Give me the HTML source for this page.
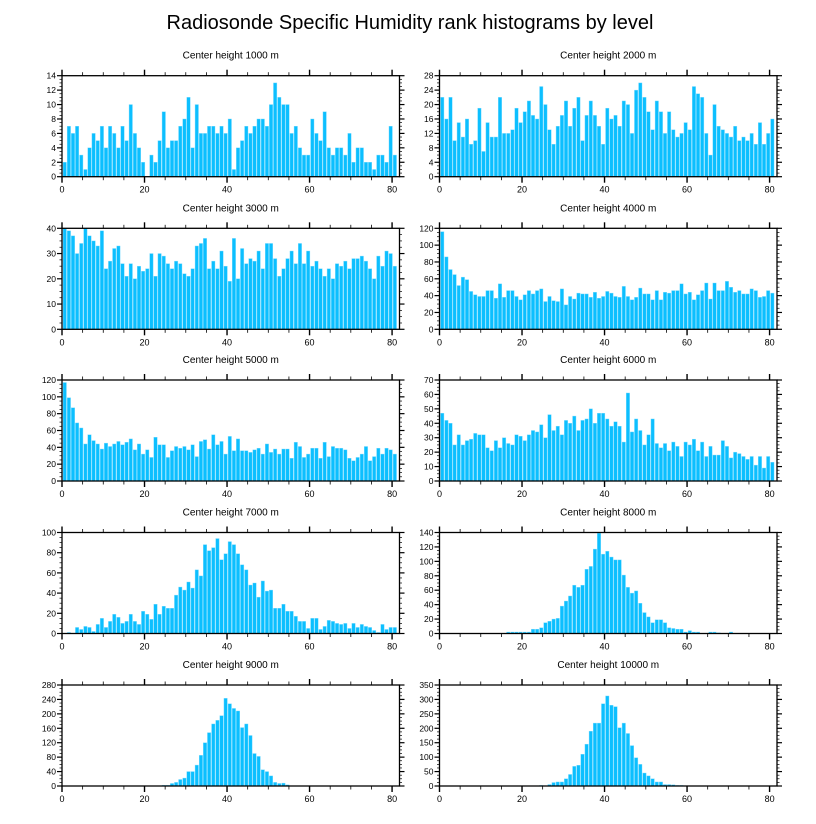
<!DOCTYPE html>
<html><head><meta charset="utf-8"><style>
html,body{margin:0;padding:0;background:#fff;}
svg{display:block;font-family:"Liberation Sans",Arial,sans-serif;}
</style></head><body>
<svg id="chart" width="816" height="824" viewBox="0 0 816 824" xmlns="http://www.w3.org/2000/svg">
<text x="410" y="29" text-anchor="middle" font-size="20">Radiosonde Specific Humidity rank histograms by level</text>
</svg>
<script>
const titles = ["Center height 1000 m","Center height 2000 m","Center height 3000 m","Center height 4000 m","Center height 5000 m","Center height 6000 m","Center height 7000 m","Center height 8000 m","Center height 9000 m","Center height 10000 m"];
const yMax = [14,28,40,120,120,70,100,140,280,350];
const yStep = [2,4,10,20,20,10,20,20,40,50];
const xTicks = [0,20,40,60,80];
const s1000 = [2,7,6,7,3,1,4,6,5,7,4,7,6,4,7,5,10,6,4,2,0,3,2,5,9,4,5,5,7,8,11,4,10,6,6,7,7,6,7,6,8,1,4,5,7,6,7,8,8,7,10,13,11,10,10,6,7,4,3,3,8,6,5,9,4,3,4,4,3,6,2,4,4,2,2,1,3,3,2,7,3];
const s2000 = [22,16,22,10,15,11,16,9,10,19,7,15,11,11,22,12,12,13,19,15,18,21,17,16,25,20,13,9,14,17,21,14,19,22,10,17,21,17,14,9,19,16,17,14,21,20,12,24,26,22,18,13,21,18,12,18,13,11,12,15,13,25,23,22,12,6,20,14,13,12,11,14,10,11,10,12,9,15,9,12,16];
const s3000 = [40,39,37,30,34,40,37,35,33,39,24,27,32,33,26,21,26,20,25,23,24,30,21,30,29,26,24,27,26,22,21,24,33,34,36,24,27,24,31,25,19,36,20,32,26,28,27,31,24,34,34,28,21,24,28,31,26,34,26,31,25,27,24,21,24,20,26,25,27,24,28,28,29,27,24,20,29,25,31,30,25];
const s4000 = [116,86,71,65,52,62,59,45,41,39,39,46,46,37,54,38,46,46,39,35,41,46,42,46,48,33,39,34,33,48,29,39,36,43,42,42,38,44,37,39,45,43,39,38,51,39,35,38,49,42,42,35,46,35,44,43,46,46,54,42,44,35,41,46,55,36,55,46,46,57,50,44,46,42,42,48,46,38,39,46,43];
const s5000 = [117,99,87,69,63,44,55,48,44,38,45,41,44,47,43,46,50,37,44,32,37,28,52,43,43,28,36,41,39,41,37,43,29,47,49,38,55,43,47,32,53,36,50,36,36,34,37,39,32,44,34,38,32,38,38,27,46,41,28,32,39,39,27,46,29,41,39,39,37,27,24,28,32,41,24,29,39,32,39,37,32];
const s6000 = [47,42,40,25,32,25,28,29,33,32,32,23,21,28,23,30,26,25,32,31,28,32,35,34,39,30,46,35,38,32,42,40,45,35,42,43,50,40,47,47,43,38,41,38,27,61,34,43,35,25,32,43,26,23,26,21,27,24,17,27,25,29,21,27,17,24,18,18,28,24,16,20,19,17,15,17,11,17,9,17,13];
const s7000 = [0,1,0,6,4,7,6,2,9,15,6,12,19,16,10,12,19,12,9,22,19,14,29,19,27,25,25,38,46,43,51,45,63,57,88,82,85,94,73,79,91,88,79,68,63,48,50,36,52,42,43,25,25,29,22,22,17,12,12,5,15,15,4,7,13,12,10,9,10,5,10,6,9,7,6,3,1,9,4,6,6];
const s8000 = [0,0,0,0,0,0,0,0,0,0,0,0,0,0,0,0,2,2,2,2,2,2,6,6,8,15,17,20,21,38,45,52,67,64,67,89,93,117,139,110,114,106,102,102,81,64,56,59,42,29,23,15,19,19,15,8,7,6,6,2,4,2,2,0,0,2,2,1,0,0,2,0,0,0,0,0,0,0,0,0,0];
const s9000 = [0,0,0,0,0,0,0,0,0,0,0,0,0,0,0,0,0,0,0,0,0,0,0,0,2,2,7,10,18,22,40,40,58,85,120,148,172,182,195,243,228,215,208,162,172,140,90,82,45,40,28,10,7,8,3,0,0,0,0,0,0,0,0,0,0,0,0,0,0,0,0,0,0,0,0,0,0,0,0,0,0];
const s10000 = [0,0,0,0,0,0,0,0,0,0,0,0,0,0,0,0,0,0,0,0,0,0,0,0,2,0,5,12,14,14,25,40,68,72,110,145,190,218,218,285,312,280,275,202,218,182,140,98,75,45,35,25,14,14,5,5,4,2,2,0,0,0,0,0,0,0,0,0,0,0,0,0,0,0,0,0,0,0,0,0,0];
const series = [s1000,s2000,s3000,s4000,s5000,s6000,s7000,s8000,s9000,s10000];

const NS = "http://www.w3.org/2000/svg";
const svg = document.getElementById("chart");
function mk(tag, attrs, parent){ const e=document.createElementNS(NS,tag); for(const k in attrs) e.setAttribute(k,attrs[k]); (parent||svg).appendChild(e); return e; }

const colX = [62, 439.5];
const boxW = 337.5;
const rowBottom = [176.7, 329.3, 481, 633.5, 786];
const boxH = 101;
const pxPerUnit = boxW / 81.8;

series.forEach((data, p) => {
  const col = p % 2, row = Math.floor(p / 2);
  const x0 = colX[col], yb = rowBottom[row], yt = yb - boxH;
  const xs = v => x0 + v * pxPerUnit;
  const ys = v => yb - v / yMax[p] * boxH;
  const g = mk("g", {});
  
  
  const t = mk("text", {x: x0 + boxW/2, y: yt - 17, "text-anchor":"middle", "font-size":"10"}, g);
  t.textContent = titles[p];
  
  
  data.forEach((v, i) => {
    if (v <= 0) return;
    const r = mk("rect", {x: xs(i + 0.25), y: ys(v), width: pxPerUnit - 0.7, height: yb - ys(v), fill: "#0cbfff", stroke:"#7fdcff", "stroke-width":"0.4"}, g);
    
    
  });
  const box = mk("rect", {x: x0, y: yt, width: boxW, height: boxH, fill: "none", stroke: "#000", "stroke-width": "1.3"}, g);
  
  
  // x ticks
  for (let v = 0; v <= 80; v += 5) {
    const major = v % 20 === 0, len = major ? 6 : 3.5;
    mk("line", {x1: xs(v), x2: xs(v), y1: yb, y2: yb + len, stroke: "#000", "stroke-width": major ? 1.4 : 0.8}, g);
    mk("line", {x1: xs(v), x2: xs(v), y1: yt, y2: yt - len, stroke: "#000", "stroke-width": major ? 1.4 : 0.8}, g);
  }
  xTicks.forEach(v => {
    const tl = mk("text", {x: xs(v), y: yb + 16, "text-anchor":"middle", "font-size":"9"}, g);
    tl.textContent = v;
    
    
  });
  // y ticks
  const minor = yStep[p] / 4;
  for (let v = 0; v <= yMax[p] + 1e-9; v += minor) {
    const major = Math.abs(v / yStep[p] - Math.round(v / yStep[p])) < 1e-6, len = major ? 5 : 2.5;
    mk("line", {x1: x0, x2: x0 - len, y1: ys(v), y2: ys(v), stroke: "#000", "stroke-width": major ? 1.2 : 0.7}, g);
    mk("line", {x1: x0 + boxW, x2: x0 + boxW + len, y1: ys(v), y2: ys(v), stroke: "#000", "stroke-width": major ? 1.2 : 0.7}, g);
    if (major) {
      const yl = mk("text", {x: x0 - 6, y: ys(v) + 3, "text-anchor":"end", "font-size":"8.5"}, g);
      yl.textContent = Math.round(v);
      
      
    }
  }
});
</script>
</body></html>
